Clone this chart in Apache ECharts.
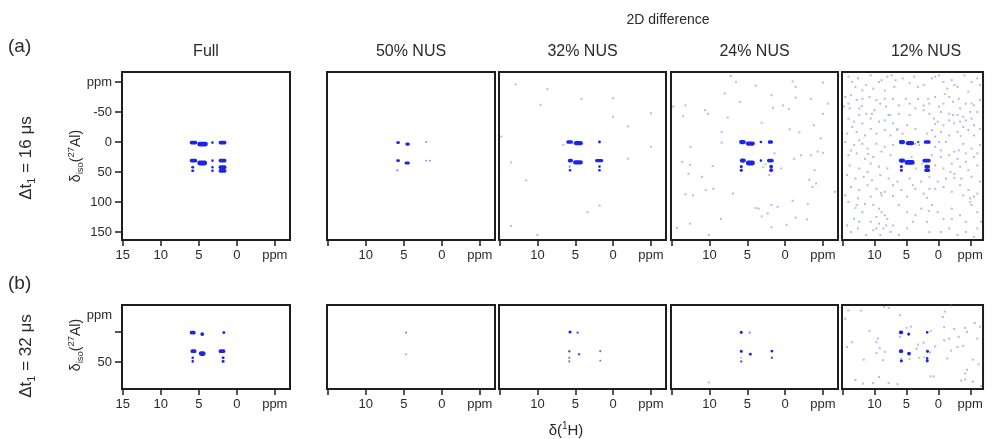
<!DOCTYPE html>
<html><head><meta charset="utf-8">
<script src="https://cdn.jsdelivr.net/npm/echarts@6/dist/echarts.min.js"></script>
<style>html,body{margin:0;padding:0;background:#fff}#c{width:1008px;height:439px}</style>
</head><body><div id="c"></div>
<script>
// ---------------- DATA ----------------
const columnTitles = ['Full', '50% NUS', '32% NUS', '24% NUS', '12% NUS'];
const groupTitle = '2D difference';
const rowLabels = ['(a)', '(b)'];
const rowDelays = ['16', '32'];
const xTickValues = [15, 10, 5, 0, -5];
const xUnitTick = -5;
const yTickValuesA = [-100, -50, 0, 50, 100, 150];
const yUnitTickA = -100;
const yTickValuesB = [0, 50];
const yLabelValuesB = [-28, 50];
const yUnitLabelB = -28;

// peaks: [delta1H start, delta1H end, delta27Al, relative intensity]
const peaksFullA = [[6.2,5.2,1,2],[5.2,3.8,3.5,3],[3.3,3.1,1,1],[2.4,1.35,1,2],[6.2,5.2,31,2],[5.2,3.9,35,3],[3.3,3.1,31,1],[2.4,1.35,31,2],[6.0,5.6,42,1],[3.3,3.1,42,1],[2.4,1.35,42,2],[6.0,5.6,48,1],[3.3,3.1,48,1],[2.4,1.35,48,2]];
const peaks50A = [[6.0,5.5,1,1],[4.8,4.2,3.5,1.5],[2.1,2.0,0,0.4],[6.0,5.5,31,1],[4.9,4.2,35,1.5],[2.1,2.0,31,0.4],[1.6,1.5,31,0.4],[5.9,5.8,47,0.5]];
const peaks32A = [[6.2,5.3,0,2],[5.2,4.0,2,2.5],[1.9,1.7,0,1.2],[6.0,5.3,31,2],[5.3,4.0,34,2.5],[2.4,1.3,31,1.5],[1.9,1.7,41,1],[1.9,1.7,47,1],[5.8,5.6,47,1],[5.8,5.7,41,0.5]];
const peaks24A = [[6.1,5.2,0,2.5],[5.2,4.0,2.5,2.5],[3.3,3.1,0,1],[2.3,1.6,0,2],[6.0,5.2,31,2.5],[5.2,4.0,35,3],[3.3,3.1,31,1],[2.4,1.5,31,2],[5.9,5.7,41,1.5],[2.1,1.6,41,2],[5.9,5.7,47,1.5],[2.1,1.6,47,2]];
const peaks12A = [[6.2,5.2,0,2.5],[5.1,3.8,2,2.5],[3.2,3.1,0,0.8],[2.3,1.2,0,2],[6.2,5.2,31,2.5],[5.3,3.7,34,3],[2.5,1.2,31,2],[5.9,5.7,41,1.5],[2.2,1.3,41,2],[5.9,5.7,47,1.5],[2.2,1.3,47,2]];
const peaksFullB = [[6.2,5.4,1,2],[4.8,4.3,3.5,2],[1.9,1.5,1,1],[6.1,5.3,32,2],[5.0,4.1,36,3],[2.4,1.5,32,2],[5.9,5.7,43,1],[2.0,1.6,43,1],[5.9,5.7,49,1],[2.0,1.6,49,1]];
const peaks50B = [[4.8,4.6,1,0.5],[4.8,4.6,37,0.3]];
const peaks32B = [[5.9,5.5,0,1.5],[4.8,4.6,1,0.8],[5.9,5.7,32,0.8],[4.6,4.4,37,0.8],[1.8,1.6,32,0.6],[1.8,1.6,48,0.5],[5.9,5.7,43,0.6],[5.9,5.7,49,0.6]];
const peaks24B = [[6.0,5.6,0.5,1.5],[4.8,4.6,1,0.5],[6.0,5.6,32,1.5],[4.8,4.4,37,1.2],[1.9,1.6,32,1.2],[1.9,1.6,43,0.8],[5.9,5.7,49,0.8]];
const peaks12B = [[6.2,5.5,0.5,2],[4.9,4.4,3.5,1.5],[1.9,1.6,0.5,1.2],[6.2,5.5,32,2],[4.9,4.3,36,2],[1.9,1.5,32,1.5],[5.9,5.7,48,1.5],[1.9,1.6,48,1.5],[1.9,1.6,44,1]];

// positive residual noise points [delta1H, delta27Al]
const noise32A = [[12.9,-96],[8.7,-88],[9.6,-62],[4.2,-72],[0,-73],[0,-42],[-2,-26],[-5,-48],[-5,8],[-2,28],[13.5,34],[11.5,64],[1.8,106],[3.4,117],[13.5,140],[10,155],[14.8,-9],[6.6,5]];
const noise24A = [[7.2,-110],[3.9,-94],[-1.0,-101],[-1.4,-92],[-5.0,-99],[8.0,-81],[1.8,-78],[-1.4,-74],[-3.4,-72],[-5.7,-64],[13.2,-61],[6.0,-67],[1.6,-57],[0.3,-61],[10.6,-53],[10.2,-47],[13.5,-43],[7.6,-41],[3.1,-32],[-5.0,-47],[-3.8,-28],[8.4,-17],[-0.6,-21],[-1.9,-16],[-4.7,-6],[8.4,1],[12.5,8],[1.4,19],[-4.3,16],[-5.0,18],[-3.4,22],[-2.1,22],[-1.2,28],[13.6,33],[12.6,38],[9.6,40],[0.5,44],[-3.9,47],[12.8,53],[11.0,58],[2.1,55],[-3.2,63],[-4.1,69],[-3.6,75],[9.5,78],[10.5,80],[-6.6,83],[13.2,87],[12.2,89],[6.9,86],[-1.0,98],[-3.0,103],[3.9,110],[3.5,111],[1.8,105],[1.0,108],[2.3,119],[3.1,124],[8.5,128],[-1.4,126],[-2.9,129],[12.6,136],[14.3,143],[-0.2,138],[1.8,142],[10.1,155],[14.8,-59]];
const noise12A = [[14.1,-109],[12.6,-106],[10.6,-111],[9.3,-100],[8.0,-109],[7.3,-111],[6.7,-103],[5.6,-106],[4.5,-98],[3.2,-92],[2.3,-95],[1.0,-106],[0.5,-109],[-0.1,-111],[-0.8,-100],[-2.1,-103],[-2.5,-95],[-3.0,-92],[-4.1,-111],[-5.2,-100],[-6.1,-106],[13.0,-92],[11.9,-86],[10.2,-89],[8.4,-86],[6.9,-92],
[14.6,-75],[13.7,-78],[12.8,-70],[11.9,-72],[10.8,-75],[9.7,-70],[8.4,-72],[7.1,-72],[6.2,-61],[4.5,-64],[3.2,-72],[2.3,-61],[1.4,-64],[0.5,-75],[-0.1,-59],[-0.8,-64],[-1.7,-75],[-2.3,-67],[-3.4,-56],[-4.3,-64],[-5.2,-64],[-6.5,-70],[14.8,-59],[13.9,-56],[12.4,-56],[11.3,-47],[10.0,-53],[8.2,-59],[7.8,-45],[6.2,-47],[3.6,-56],[2.3,-53],[1.4,-47],[-0.4,-50],[-1.7,-47],[-3.0,-45],[-3.9,-42],[-5.0,-50],[-6.1,-50],
[14.1,-39],[13.2,-34],[11.9,-31],[10.6,-39],[9.3,-34],[8.4,-36],[7.1,-31],[6.4,-22],[4.9,-28],[3.6,-22],[1.0,-20],[0.1,-34],[-0.8,-28],[-1.7,-36],[-2.5,-31],[-3.4,-34],[-4.3,-36],[-5.6,-28],[-6.5,-22],[14.3,-14],[12.8,-17],[11.5,-11],[9.7,-14],[8.4,-20],[7.5,-11],[1.8,-14],[0.5,-9],[-1.7,-11],[-3.0,-17],[-4.7,-20],[-5.6,-11],
[14.6,0],[13.2,5],[12.4,-3],[11.1,11],[9.7,3],[8.4,8],[7.1,5],[3.6,3],[0.5,8],[-0.4,14],[-1.2,0],[-2.5,16],[-3.9,3],[-5.2,11],[-6.5,5],[14.1,22],[12.8,19],[11.5,28],[10.2,25],[8.9,16],[7.5,22],[1.0,22],[-0.4,25],[-1.7,22],[-3.0,28],[-4.3,19],[-5.6,25],[13.9,39],[12.4,44],[10.6,36],[9.3,41],[8.0,44],[0.5,39],[-0.8,44],[-2.1,36],[-3.4,41],[-4.7,47],[-6.1,39],
[14.3,55],[13.0,61],[11.7,58],[10.4,64],[9.1,55],[7.8,61],[6.4,66],[4.5,61],[2.7,66],[1.4,58],[0.1,66],[-1.2,61],[-2.5,53],[-3.6,61],[-5.2,58],[-6.5,66],[13.7,75],[12.4,80],[11.1,72],[9.7,78],[8.4,83],[7.1,72],[5.8,80],[3.6,78],[2.3,86],[0.5,78],[-0.8,75],[-2.1,83],[-3.4,72],[-4.7,80],[-6.1,86],[14.6,89],[10.6,91],[8.9,89],[7.1,90],[4.9,91],[1.8,93],[-3.9,89],[-5.6,91],
[14.1,100],[12.8,105],[11.5,103],[10.2,105],[9.3,111],[8.9,117],[8.4,122],[8.0,128],[9.7,125],[9.3,136],[8.6,144],[11.9,117],[13.2,128],[14.3,139],[13.7,150],[12.6,144],[11.3,155],[10.2,147],[7.5,150],[6.2,155],[4.9,144],[3.6,122],[2.7,111],[1.8,133],[1.0,105],[0.1,117],[-0.8,128],[-2.1,111],[-3.4,122],[-4.3,133],[-5.2,105],[-6.1,117],[-6.7,133],[-0.4,150],[-1.7,144],[-3.0,155],[-4.3,150],[-5.6,158],[6.2,105],[4.9,117],[7.1,139],
[13.5,-100],[11.3,-95],[8.9,-103],[3.8,-109],[-1.4,-89],[-4.7,-84],[-6.5,-95],[14.1,-64],[9.1,-64],[5.1,-72],[1.6,-72],[-3.2,-72],[-5.6,-61],[12.4,-45],[10.4,-47],[4.5,-45],[0.7,-39],[-2.3,-45],[-5.2,-39],[13.5,-25],[10.6,-22],[5.6,-14],[-0.4,-17],[-3.9,-25],[13.7,14],[11.9,3],[-0.1,0],[-3.2,14],[-6.1,19],[11.1,50],[-1.9,50],[-4.3,33],[12.6,94],[4.0,72],[1.4,78],[-5.0,94],[4.0,133],[1.4,150],[-2.1,128],[-6.1,144],[12.4,133],[10.6,133],[9.7,144],[8.2,139],[9.1,155]];
const noise24B = [[10.1,84]];
const noise12B = [[14.1,-36],[12.1,-36],[8.5,-42],[7.8,-40],[-2.0,-44],[14.6,-22],[6.0,-28],[10.8,-2],[4.3,-9],[5.0,-7],[-1.0,-34],[-0.7,-25],[-0.9,-8],[-2.5,-5],[-4.2,-7],[-5.7,-15],[-6.5,-9],[13.5,17],[9.5,11],[9.7,17],[6.0,8],[3.2,21],[2.3,18],[1.2,-2],[0.5,24],[-0.9,14],[-1.7,11],[-3.2,8],[-4.5,0],[-6.1,11],[14.3,25],[9.2,27],[8.4,33],[9.7,35],[8.7,47],[11.7,46],[3.4,28],[1.3,34],[-1.4,44],[-2.0,31],[-3.0,25],[-3.9,23],[-5.4,46],[-6.3,54],[-4.5,63],[-4.2,69],[0.7,74],[1.2,74],[9.3,75],[7.8,85],[13.0,80],[11.8,86],[10.2,85],[6.4,87],[-3.6,81],[-4.2,79],[-5.4,83],[-6.7,90]];
// negative residual points [delta1H, delta27Al]
const neg24A = [[2.6,37],[2.9,42],[-0.5,-55],[6.5,-100]];
const neg12A = [[3.0,5],[2.5,36],[3.5,44],[0.5,-30],[-2.5,60],[7.5,-45],[11,20],[-5,100],[9,85],[1.5,115],[12,-60],[-3.5,-10],[6.5,-20],[4.2,25],[-1,-80],[13,110]];
const neg24B = [[5.8,43]];
const neg12B = [[5.8,44],[4.5,45],[3.0,43],[2.2,42]];

const peakSets = [[peaksFullA, peaks50A, peaks32A, peaks24A, peaks12A],[peaksFullB, peaks50B, peaks32B, peaks24B, peaks12B]];
const noiseSets = [[[], [], noise32A, noise24A, noise12A],[[], [], [], noise24B, noise12B]];
const negSets = [[[], [], [], neg24A, neg12A],[[], [], [], neg24B, neg12B]];

// ---------------- LAYOUT / STYLE ----------------
const FONT = '"Liberation Sans", Arial, Helvetica, sans-serif';
const INK = '#2a2a2a';
const LAYOUT = {
  colLeft: [122, 327, 499, 671, 842],
  colWidth: [168, 168, 167, 167, 168],
  rowTop: [72, 305], rowHeight: [168, 84],
  xRange: [-7.0, 15.1],
  yRange: [[-116.7, 163.3], [-45, 95]]
};

const grids = [], xAxes = [], yAxes = [], series = [];
for (let r = 0; r < 2; r++) {
  for (let c = 0; c < 5; c++) {
    const g = r * 5 + c;
    grids.push({left: LAYOUT.colLeft[c], top: LAYOUT.rowTop[r], width: LAYOUT.colWidth[c], height: LAYOUT.rowHeight[r],
      show: true, borderColor: '#1e1e1e', borderWidth: 2, backgroundColor: '#fff'});
    xAxes.push({gridIndex: g, type: 'value', inverse: true, min: LAYOUT.xRange[0], max: LAYOUT.xRange[1],
      axisLine: {show: false, onZero: false}, splitLine: {show: false},
      axisTick: {show: true, customValues: xTickValues, length: 6, lineStyle: {color: '#1e1e1e', width: 1.5}},
      axisLabel: {customValues: c === 0 ? xTickValues : xTickValues.slice(1), margin: 9, fontSize: 13, color: INK, fontFamily: FONT,
        formatter: v => v === xUnitTick ? 'ppm' : String(v)}});
    const yAx = {gridIndex: g, type: 'value', inverse: true, min: LAYOUT.yRange[r][0], max: LAYOUT.yRange[r][1],
      axisLine: {show: false, onZero: false}, splitLine: {show: false}};
    if (c === 0) {
      const ticks = r === 0 ? yTickValuesA : yTickValuesB;
      const labs = r === 0 ? yTickValuesA : yLabelValuesB;
      const unit = r === 0 ? yUnitTickA : yUnitLabelB;
      yAx.axisTick = {show: true, customValues: ticks, length: 7, lineStyle: {color: '#1e1e1e', width: 1.5}};
      yAx.axisLabel = {customValues: labs, margin: 10, fontSize: 13, color: INK, fontFamily: FONT,
        formatter: v => v === unit ? 'ppm' : String(v)};
    } else {
      yAx.axisTick = {show: false};
      yAx.axisLabel = {show: false};
    }
    yAxes.push(yAx);
    series.push({type: 'scatter', xAxisIndex: g, yAxisIndex: g, data: noiseSets[r][c], symbol: 'rect', symbolSize: 2,
      itemStyle: {color: 'rgba(105,105,230,0.6)'}, silent: true, z: 2});
    series.push({type: 'scatter', xAxisIndex: g, yAxisIndex: g, data: negSets[r][c], symbol: 'rect', symbolSize: 2,
      itemStyle: {color: 'rgba(110,190,110,0.75)'}, silent: true, z: 2});
    series.push({type: 'custom', xAxisIndex: g, yAxisIndex: g, data: peakSets[r][c], silent: true, z: 3,
      encode: {x: [0, 1], y: 2},
      renderItem: (params, api) => {
        const a = api.coord([api.value(0), api.value(2)]);
        const b = api.coord([api.value(1), api.value(2)]);
        const inten = api.value(3);
        const t = 1.5 + inten * 1.1;
        const w = Math.max(Math.abs(b[0] - a[0]), t);
        const cx = (a[0] + b[0]) / 2;
        const fill = inten >= 1 ? '#1a24ea' : 'rgba(45,55,225,' + (0.35 + inten * 0.6).toFixed(2) + ')';
        return {type: 'rect', shape: {x: cx - w / 2, y: a[1] - t / 2, width: w, height: t, r: t / 2}, style: {fill: fill}};
      }});
  }
}

const graphics = [];
const colCenters = LAYOUT.colLeft.map((l, i) => l + LAYOUT.colWidth[i] / 2);
columnTitles.forEach((t, i) => graphics.push({type: 'text', x: colCenters[i], y: 52,
  style: {text: t, fontSize: 16, fontFamily: FONT, fill: INK, align: 'center', verticalAlign: 'middle'}}));
graphics.push({type: 'text', x: 668, y: 20, style: {text: groupTitle, fontSize: 14, fontFamily: FONT, fill: INK, align: 'center', verticalAlign: 'middle'}});
const rowLabelY = [47, 284];
const delayY = [158, 356];
const ylabY = [156, 345];
const richMain = {
  n: {fontSize: 17, lineHeight: 22, fontFamily: FONT, fill: INK},
  sb: {fontSize: 11, verticalAlign: 'bottom', fontFamily: FONT, fill: INK},
  sp: {fontSize: 10, verticalAlign: 'top', fontFamily: FONT, fill: INK}
};
const richAx = {
  n: {fontSize: 14, lineHeight: 19, fontFamily: FONT, fill: INK},
  sb: {fontSize: 9.5, verticalAlign: 'bottom', fontFamily: FONT, fill: INK},
  sp: {fontSize: 9.5, verticalAlign: 'top', fontFamily: FONT, fill: INK}
};
for (let r = 0; r < 2; r++) {
  graphics.push({type: 'text', x: 8, y: rowLabelY[r], style: {text: rowLabels[r], fontSize: 19, fontFamily: FONT, fill: INK, align: 'left', verticalAlign: 'middle'}});
  graphics.push({type: 'text', x: 26, y: delayY[r], rotation: Math.PI / 2,
    style: {text: '{n|Δt}{sb|1}{n| = ' + rowDelays[r] + ' μs}', rich: richMain, align: 'center', verticalAlign: 'middle'}});
  graphics.push({type: 'text', x: 76, y: ylabY[r], rotation: Math.PI / 2,
    style: {text: '{n|δ}{sb|iso}{n|(}{sp|27}{n|Al)}', rich: richAx, align: 'center', verticalAlign: 'middle'}});
}
graphics.push({type: 'text', x: 566, y: 431, style: {text: '{n|δ(}{sp|1}{n|H)}', rich: {
  n: {fontSize: 15, lineHeight: 19, fontFamily: FONT, fill: INK}, sp: {fontSize: 10, verticalAlign: 'top', fontFamily: FONT, fill: INK}},
  align: 'center', verticalAlign: 'middle'}});

const chart = echarts.init(document.getElementById('c'), null, {renderer: 'canvas'});
chart.setOption({animation: false, backgroundColor: '#fff', grid: grids, xAxis: xAxes, yAxis: yAxes, series: series, graphic: graphics});
</script>
</body></html>
